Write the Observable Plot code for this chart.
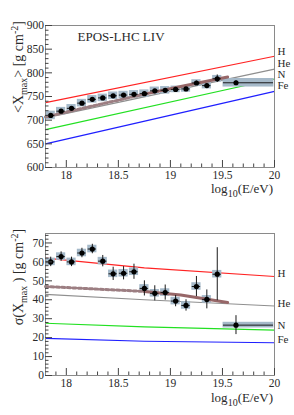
<!DOCTYPE html>
<html><head><meta charset="utf-8">
<script src="https://cdn.jsdelivr.net/npm/d3@7"></script>
<script src="https://cdn.jsdelivr.net/npm/@observablehq/plot@0.6"></script>
<style>body{margin:0;background:#fff;} #chart svg{display:block;}</style>
</head><body><div id="chart"></div>
<script>
// ---- data ----
const energy   = [17.85,17.95,18.05,18.15,18.25,18.35,18.45,18.55,18.65,18.75,18.85,18.95,19.05,19.15,19.25,19.35,19.45,19.63];
const binLow   = [17.8,17.9,18.0,18.1,18.2,18.3,18.4,18.5,18.6,18.7,18.8,18.9,19.0,19.1,19.2,19.3,19.4,19.5];
const binHigh  = [17.9,18.0,18.1,18.2,18.3,18.4,18.5,18.6,18.7,18.8,18.9,19.0,19.1,19.2,19.3,19.4,19.5,20.0];
const xmaxMean = [710,719,725,736,744,747,751.5,753,754.5,756,762,763,765,766,778.5,773,787.5,779];
const xmaxStat = [2,2,2,2,2,2,2,2,2,2.5,2.5,2.5,3,3,4,4,8,4];
const xmaxSys  = [9,8,8,8,8,8,8,8,8,8,8,8,7,7,7,7,7,9];
const sigmaVal = [60,62.8,60,64.7,66.8,60.4,53.7,54,54.8,46,43.4,43.8,39.3,37,47,40.2,53.5,26.6];
const sigmaStat= [2.5,2.5,2.5,2.5,2.5,3,3.5,3.5,4,4,4,4,3,3,5.3,5,14,5];
const sigmaSys = [2,2,2,2,2,2,2,2,2,2,2,2,2,2,2,2,2,1.5];

const models = ["H","He","N","Fe"];
const modelColors = ["#ff2323","#8f8f8f","#22e022","#1f1fff"];
const meanLineE = [17.8, 20];
const meanH  = [737, 835];
const meanHe = [705, 808];
const meanN  = [680, 787];
const meanFe = [650, 761];
const sigmaLineE = [17.8, 18.75, 20];
const sigmaH  = [62, 56.8, 52.3];
const sigmaHe = [42.9, 40, 36.7];
const sigmaN  = [27.6, 25.7, 24];
const sigmaFe = [19.6, 18.1, 17.3];
const meanLabelY  = [846, 820, 796.5, 773];
const sigmaLabelY = [54, 38, 26.6, 19];

const fitDashE  = [17.8, 18.75];
const fitSolidE = [18.75, 19.1, 19.55];
const meanFitDash   = [707, 755];
const meanFitSolid  = [755, 771, 791];
const sigmaFitDash  = [47, 44.4];
const sigmaFitSolid = [44.4, 42.5, 38.6];

const title = "EPOS-LHC LIV";
const xMajor = [18, 18.5, 19, 19.5, 20];
const xMinor = d3.range(17.9, 20.0, 0.1).map(v => +v.toFixed(1)).filter(v => !xMajor.includes(v));
const meanMajor = [600,650,700,750,800,850,900];
const meanMinor = d3.range(610, 900, 10).filter(v => v % 50 !== 0);
const sigmaMajor = [0,10,20,30,40,50,60,70];
const sigmaMinor = d3.range(2, 75, 2).filter(v => v % 10 !== 0);

const FONT = "'Liberation Serif','Times New Roman',serif";
const INK = "#2a2a2a";

function rows(vals, stat, sys) {
  return energy.map((e, i) => ({e, lo: binLow[i], hi: binHigh[i], v: vals[i], st: stat[i], sy: sys[i]}));
}
function lineRows(xs, ys, name) { return xs.map((x, i) => ({x, y: ys[i], name})); }

function panel({height, marginTop, marginBottom, yDomain, yMajor, yMinor, modelLines, labelY, data, fitDash, fitSolid, showTitle}) {
  const lines = models.flatMap((m, i) => lineRows(modelLines.xs, modelLines.ys[i], m));
  const labels = models.map((m, i) => ({name: m, y: labelY[i]}));
  return Plot.plot({
    width: 294, height, marginLeft: 45, marginRight: 20, marginTop, marginBottom,
    style: {fontFamily: FONT, fontSize: "11.5px", color: INK, background: "#fff"},
    x: {domain: [17.8, 20]},
    y: {domain: yDomain},
    color: {domain: models, range: modelColors},
    marks: [
      Plot.line(lines, {x: "x", y: "y", z: "name", stroke: "name", strokeWidth: 1.2}),
      Plot.rect(data, {x1: "lo", x2: "hi", y1: d => d.v - d.sy, y2: d => d.v + d.sy, fill: "#a5b9c9", insetLeft: 0.6, insetRight: 0.6}),
      Plot.line(lineRows(fitDash.xs, fitDash.ys, "d"), {x: "x", y: "y", stroke: "#9c7e82", strokeWidth: 3, strokeDasharray: "3,2.5"}),
      Plot.line(lineRows(fitSolid.xs, fitSolid.ys, "s"), {x: "x", y: "y", stroke: "#976768", strokeWidth: 3}),
      Plot.ruleY(data, {y: "v", x1: "lo", x2: "hi", stroke: "#1a1a1a", strokeWidth: 1, insetLeft: 1, insetRight: 1}),
      Plot.ruleX(data, {x: "e", y1: d => d.v - d.st, y2: d => d.v + d.st, stroke: "#1a1a1a", strokeWidth: 1}),
      Plot.dot(data, {x: "e", y: "v", r: 2.6, fill: "#000"}),
      Plot.frame({stroke: "#8a8a8a"}),
      Plot.axisX({ticks: xMajor, tickSize: -7, tickPadding: 10, tickFormat: d => String(d), fontSize: 11.5, label: null, stroke: "#444"}),
      Plot.axisX({ticks: xMinor, tickSize: -3.5, tickFormat: () => "", label: null, stroke: "#444"}),
      Plot.axisY({ticks: yMajor, tickSize: -7, tickPadding: 8.5, tickFormat: d => String(d), fontSize: 11.5, label: null, stroke: "#444"}),
      Plot.axisY({ticks: yMinor, tickSize: -3.5, tickFormat: () => "", label: null, stroke: "#444"}),
      Plot.text(labels, {x: () => 20, y: "y", text: "name", dx: 3, textAnchor: "start", fontSize: 11, fill: INK}),
      showTitle ? Plot.text([title], {frameAnchor: "top-left", dx: 32, dy: 6, lineAnchor: "top", textAnchor: "start", fontSize: 13, fill: INK}) : null
    ]
  });
}

function addText(svg, attrs, parts) {
  const t = d3.select(svg).append("text")
    .attr("font-family", FONT).attr("fill", INK);
  for (const [k, v] of Object.entries(attrs)) t.attr(k, v);
  for (const p of parts) {
    const s = t.append("tspan").text(p.t);
    if (p.sub) s.attr("font-size", 10).attr("dy", 4);
    else if (p.sup) s.attr("font-size", 10).attr("dy", -5);
    else if (p.back) s.attr("dy", p.back);
  }
  return t;
}

const topPanel = panel({
  height: 207, marginTop: 25, marginBottom: 40, yDomain: [600, 900],
  yMajor: meanMajor, yMinor: meanMinor,
  modelLines: {xs: meanLineE, ys: [meanH, meanHe, meanN, meanFe]},
  labelY: meanLabelY, data: rows(xmaxMean, xmaxStat, xmaxSys),
  fitDash: {xs: fitDashE, ys: meanFitDash}, fitSolid: {xs: fitSolidE, ys: meanFitSolid}, showTitle: true
});
const bottomPanel = panel({
  height: 208, marginTop: 26, marginBottom: 40, yDomain: [0, 75],
  yMajor: sigmaMajor, yMinor: sigmaMinor,
  modelLines: {xs: sigmaLineE, ys: [sigmaH, sigmaHe, sigmaN, sigmaFe]},
  labelY: sigmaLabelY, data: rows(sigmaVal, sigmaStat, sigmaSys),
  fitDash: {xs: fitDashE, ys: sigmaFitDash}, fitSolid: {xs: fitSolidE, ys: sigmaFitSolid}, showTitle: false
});

addText(topPanel, {transform: "translate(23,67) rotate(-90)", "text-anchor": "middle", "font-size": 14},
  [{t: "<X"}, {t: "max", sub: true}, {t: "> [g cm", back: -4}, {t: "-2", sup: true}, {t: "]", back: 5}]);
addText(bottomPanel, {transform: "translate(23,70) rotate(-90)", "text-anchor": "middle", "font-size": 14},
  [{t: "σ(X"}, {t: "max", sub: true}, {t: " ) [g cm", back: -4}, {t: "-2", sup: true}, {t: "]", back: 5}]);
addText(topPanel, {x: 273, y: 192.5, "text-anchor": "end", "font-size": 13},
  [{t: "log"}, {t: "10", sub: true}, {t: "(E/eV)", back: -4}]);
addText(bottomPanel, {x: 273, y: 195, "text-anchor": "end", "font-size": 13},
  [{t: "log"}, {t: "10", sub: true}, {t: "(E/eV)", back: -4}]);

document.getElementById("chart").append(topPanel, bottomPanel);
</script>
</body></html>
